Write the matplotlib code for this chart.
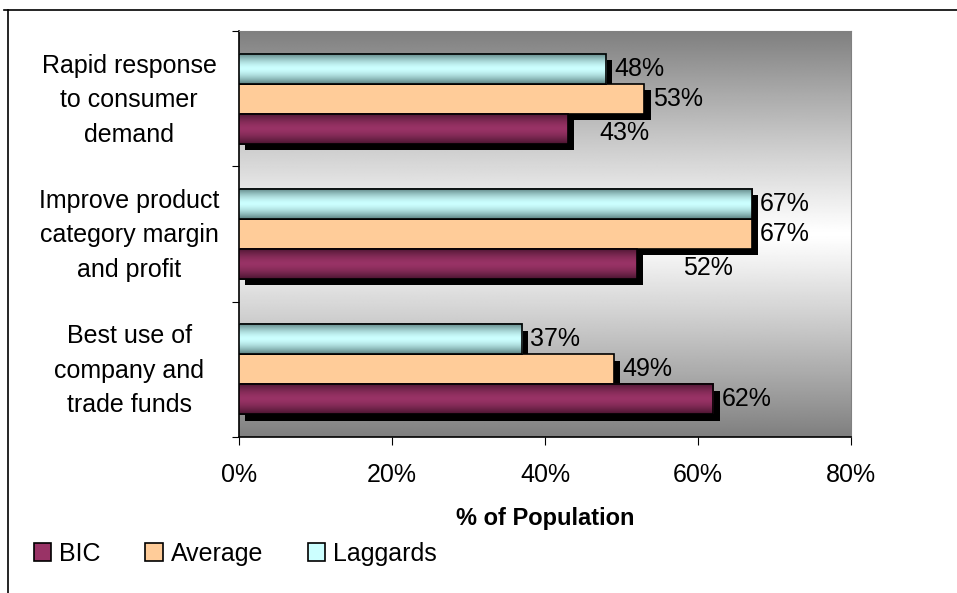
import numpy as np
import matplotlib.pyplot as plt
import matplotlib.transforms as mtransforms
from matplotlib.patches import Patch
from matplotlib.colors import to_rgb

plt.rcParams['font.family'] = ['Liberation Sans', 'DejaVu Sans']

# data (bottom to top on the chart)
categories = ['Best use of\ncompany and\ntrade funds',
              'Improve product\ncategory margin\nand profit',
              'Rapid response\nto consumer\ndemand']
bic = [62, 52, 43]
average = [49, 67, 53]
laggards = [37, 67, 48]
series_names = ['BIC', 'Average', 'Laggards']
xticks = [0, 20, 40, 60, 80]

# styles
face = ['#993366', '#FFCC99', '#CCFFFF']
edge_dark = ['#4a1530', '#FFCC99', '#5a8080']
h = 0.222
offsets = [-h, 0, h]
label_dx = [[6, 33, 23], [6, 6, 6], [6, 6, 6]]
label_dy = [[0, -3, -3], [0, 0, 0], [0, 0, 0]]
fs = 18

fig = plt.figure(figsize=(9.57, 5.93), dpi=100)
ax = fig.add_axes([0.2497, 0.2631, 0.6395, 0.6846])

# outer chart frame (top and left visible)
fig.add_artist(plt.Line2D([4 / 957, 1], [1 - 10 / 593] * 2, color='black', lw=1.2, transform=fig.transFigure))
fig.add_artist(plt.Line2D([8 / 957] * 2, [0, 1 - 10 / 593], color='black', lw=1.2, transform=fig.transFigure))

ax.set_xlim(0, 80)
ax.set_ylim(-0.5, 2.5)

# background gradient: gray top/bottom, white in the middle
t = np.linspace(-1, 1, 400)
g = 0.5 + 0.5 * (1 - np.abs(t) ** 1.1)
bg = np.repeat(g[:, None], 2, axis=1)
ax.imshow(bg, cmap='gray', vmin=0, vmax=1, extent=(0, 80, -0.5, 2.5),
          aspect='auto', zorder=0, interpolation='bilinear')

ypos = np.arange(len(categories))
shadow_tr = mtransforms.offset_copy(ax.transData, fig=fig, x=4.5, y=-4.5, units='points')
all_vals = [bic, average, laggards]

# shadows first
for i, vals in enumerate(all_vals):
    ax.barh(ypos + offsets[i], vals, height=h, color='black', transform=shadow_tr, zorder=2)

prof_t = np.linspace(-1, 1, 60)
for i, vals in enumerate(all_vals):
    bars = ax.barh(ypos + offsets[i], vals, height=h, color=face[i],
                   edgecolor='black', linewidth=1.2, zorder=3)
    c0 = np.array(to_rgb(face[i]))
    c1 = np.array(to_rgb(edge_dark[i]))
    m = np.abs(prof_t)[:, None] ** 1.6
    img = (c0 * (1 - m) + c1 * m)[:, None, :]
    for j, b in enumerate(bars):
        x0, y0, w, hh = b.get_x(), b.get_y(), b.get_width(), b.get_height()
        if i != 1:
            ax.imshow(img, extent=(x0, x0 + w, y0, y0 + hh), aspect='auto',
                      zorder=3.5, interpolation='bilinear')
            ax.add_patch(plt.Rectangle((x0, y0), w, hh, fill=False,
                                       edgecolor='black', lw=1.2, zorder=4))
        ax.annotate(f'{vals[j]}%', (x0 + w, y0 + hh / 2),
                    xytext=(label_dx[i][j], label_dy[i][j]), textcoords='offset points',
                    ha='left', va='center', fontsize=fs, zorder=5)

# axes
ax.set_yticks([-0.5, 0.5, 1.5, 2.5])
ax.set_yticklabels([])
ax.set_yticks(ypos, minor=True)
ax.set_yticklabels(categories, minor=True, fontsize=fs, ha='center', linespacing=1.55)
ax.tick_params(axis='y', which='minor', length=0, pad=79)
ax.tick_params(axis='y', which='major', length=5, direction='out')
shift = mtransforms.ScaledTranslation(0, 4.5 / 72, fig.dpi_scale_trans)
for lbl in ax.get_yticklabels(minor=True):
    lbl.set_transform(lbl.get_transform() + shift)
ax.set_xticks(xticks)
ax.set_xticklabels([f'{v}%' for v in xticks], fontsize=fs)
ax.tick_params(axis='x', length=6, direction='out', pad=13)
ax.set_xlabel('% of Population', fontsize=17, fontweight='bold', labelpad=14)
for s in ['top', 'right']:
    ax.spines[s].set_color('#808080')
ax.spines['left'].set_linewidth(1.2)
ax.spines['bottom'].set_linewidth(1.2)

handles = [Patch(facecolor=face[i], edgecolor='black', linewidth=1.2) for i in range(3)]
fig.legend(handles, series_names, loc='center left', bbox_to_anchor=(0.012, 0.066),
           ncol=3, frameon=False, fontsize=fs, handlelength=0.7, handleheight=0.7,
           handletextpad=0.3, columnspacing=1.8)

fig.savefig('out.png', dpi=100)
